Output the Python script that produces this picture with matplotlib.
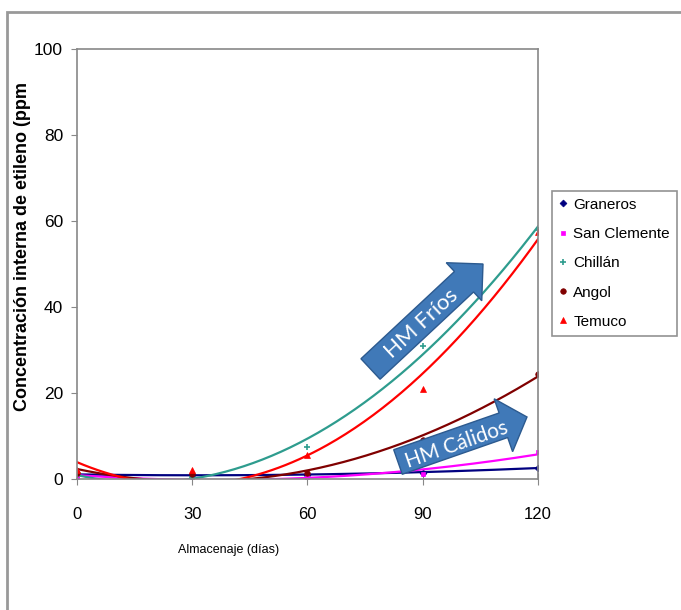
import numpy as np
import matplotlib.pyplot as plt
import matplotlib.patches as mpatches

plt.rcParams['font.family'] = ['Liberation Sans', 'DejaVu Sans']

# storage days
dias = [0, 30, 60, 90, 120]

# ethylene concentration (ppm) per locality
graneros = [1.0, 1.0, 1.0, 1.5, 2.6]
san_clemente = [0.5, 0.5, 0.5, 1.2, 6.2]
chillan = [1.0, 0.5, 7.5, 31.0, 58.0]
angol = [1.5, 1.2, 1.5, 9.0, 24.5]
temuco = [2.2, 2.0, 5.6, 21.0, 57.5]

series = [
    ("Graneros", graneros, "#000080", "D", 3.5),
    ("San Clemente", san_clemente, "#FF00FF", "s", 3.5),
    ("Chillán", chillan, "#2E9C8E", "+", 5),
    ("Angol", angol, "#800000", "o", 4),
    ("Temuco", temuco, "#FF0000", "^", 4),
]

fig = plt.figure(figsize=(6.81, 6.10), dpi=100)
ax = fig.add_axes([0.113, 0.2148, 0.677, 0.705])

# outer chart frame (like the Excel chart area)
fig.add_artist(mpatches.Rectangle((7 / 681, -0.05), 1.05, 1 - 12 / 610 + 0.05,
                                  transform=fig.transFigure, fill=False,
                                  edgecolor="#999999", linewidth=2))

xs = np.linspace(0, 120, 200)
for name, vals, col, mk, ms in series:
    # second order trendline, as in the spreadsheet
    coef = np.polyfit(dias, vals, 2)
    ax.plot(xs, np.polyval(coef, xs), color=col, linewidth=1.6)
    ax.plot(dias, vals, linestyle="None", marker=mk, color=col,
            markersize=ms, label=name, markeredgewidth=1.2 if mk == "+" else 0.5)

ax.set_xlim(0, 120)
ax.set_ylim(0, 100)
ax.set_xticks([0, 30, 60, 90, 120])
ax.set_yticks([0, 20, 40, 60, 80, 100])
ax.tick_params(axis="x", direction="inout", length=8, pad=16, labelsize=12, color="#888888")
ax.tick_params(axis="y", direction="out", length=4, pad=6, labelsize=12.5, color="#888888")
for s in ax.spines.values():
    s.set_color("#888888")
    s.set_linewidth(1.2)

ax.set_xlabel("Almacenaje (días)", fontsize=9)
ax.xaxis.set_label_coords(0.329, -0.152)
ax.set_ylabel("Concentración interna de etileno (ppm", fontsize=13,
              fontweight="bold")
ax.yaxis.set_label_coords(-0.10, 0.54)

# blue arrows, drawn in inches on the figure
arrow_col = "#4079B8"
arrow_edge = "#2C5A8F"
fig.add_artist(mpatches.FancyArrow(3.705, 2.41, 1.125, 1.05, width=0.28,
                                   head_width=0.52, head_length=0.26,
                                   length_includes_head=True,
                                   transform=fig.dpi_scale_trans,
                                   fc=arrow_col, ec=arrow_edge, lw=1))
fig.text(4.22, 2.86, "HM Fríos", transform=fig.dpi_scale_trans, rotation=42.7,
         rotation_mode="anchor", ha="center", va="center", color="white",
         fontsize=16, family=["Lato", "DejaVu Sans"])
fig.add_artist(mpatches.FancyArrow(3.98, 1.48, 1.29, 0.45, width=0.26,
                                   head_width=0.56, head_length=0.25,
                                   length_includes_head=True,
                                   transform=fig.dpi_scale_trans,
                                   fc=arrow_col, ec=arrow_edge, lw=1))
fig.text(4.57, 1.65, "HM Cálidos", transform=fig.dpi_scale_trans, rotation=19.2,
         rotation_mode="anchor", ha="center", va="center", color="white",
         fontsize=15, family=["Lato", "DejaVu Sans"])

leg = ax.legend(loc="upper left", bbox_to_anchor=(1.03, 0.67), fontsize=11,
                frameon=True, fancybox=False, edgecolor="#777777",
                handlelength=0.5, handletextpad=0.45, borderpad=0.45,
                borderaxespad=0, labelspacing=1.0)
leg.get_frame().set_linewidth(1.2)

fig.savefig("out.png", dpi=100)
